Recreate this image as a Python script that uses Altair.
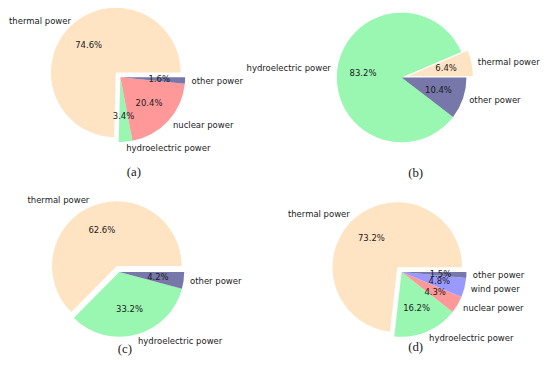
import altair as alt
import pandas as pd

# ---- data ----
cats_a = ["thermal power", "hydroelectric power", "nuclear power", "other power"]
vals_a = [74.6, 3.4, 20.4, 1.6]
expl_a = [0.1, 0, 0, 0]

cats_b = ["thermal power", "hydroelectric power", "other power"]
vals_b = [6.4, 83.2, 10.4]
expl_b = [0.1, 0, 0]

cats_c = ["thermal power", "hydroelectric power", "other power"]
vals_c = [62.6, 33.2, 4.2]
expl_c = [0.1, 0, 0]

cats_d = ["thermal power", "hydroelectric power", "nuclear power", "wind power", "other power"]
vals_d = [73.2, 16.2, 4.3, 4.8, 1.5]
expl_d = [0.1, 0, 0, 0, 0]

captions = ["(a)", "(b)", "(c)", "(d)"]

COLORS = {
    "thermal power": "#FFE4C4",
    "hydroelectric power": "#99F7B2",
    "nuclear power": "#FF9999",
    "wind power": "#9999FF",
    "other power": "#7777AA",
}

# ---- layout (pixels in the plot area) ----
R = 65.8
FONT = "DejaVu Sans"
FS = 8.6
CENTERS = [(114, 67.5), (399.5, 67.8), (113, 265.2), (399.5, 265.2)]
CAPPOS = [(127.7, 164), (413.7, 165.3), (118.7, 343.7), (413.7, 341.3)]


def panel(cats, vals, expl, center, caption, cappos, left_dx=0):
    cx0, cy0 = center
    df = pd.DataFrame({
        "order": list(range(len(cats))),
        "category": cats,
        "value": vals,
        "explode": expl,
        "color": [COLORS[c] for c in cats],
    })
    base = (
        alt.Chart(df)
        .transform_window(cum="sum(value)", sort=[alt.SortField("order")], frame=[None, 0])
        .transform_joinaggregate(total="sum(value)")
        .transform_calculate(
            a0="2*PI*(datum.cum - datum.value)/datum.total",
            a1="2*PI*datum.cum/datum.total",
        )
        .transform_calculate(am="(datum.a0 + datum.a1)/2")
        .transform_calculate(
            X=f"{cx0} + {R}*datum.explode*cos(datum.am)",
            Y=f"{cy0} - {R}*datum.explode*sin(datum.am)",
            t0="PI/2 - datum.a0",
            t1="PI/2 - datum.a1",
            pct="format(datum.value, '.1f') + '%'",
        )
        .transform_calculate(
            LX=f"datum.X + 1.1*{R}*cos(datum.am)",
            LY=f"datum.Y - 1.1*{R}*sin(datum.am)",
            PX=f"datum.X + 0.6*{R}*cos(datum.am)",
            PY=f"datum.Y - 0.6*{R}*sin(datum.am)",
        )
    )

    arc = base.mark_arc(radius=R).encode(
        x=alt.X("X:Q", scale=None, axis=None),
        y=alt.Y("Y:Q", scale=None, axis=None),
        theta=alt.Theta("t0:Q", scale=None, stack=False),
        theta2=alt.Theta2("t1:Q"),
        color=alt.Color("color:N", scale=None),
    )
    left = base.transform_filter(f"datum.LX < {cx0}").mark_text(
        align="right", baseline="middle", font=FONT, fontSize=FS, color="#1a1a1a",
        dx=left_dx,
    ).encode(
        x=alt.X("LX:Q", scale=None, axis=None),
        y=alt.Y("LY:Q", scale=None, axis=None),
        text="category:N",
    )
    right = base.transform_filter(f"datum.LX >= {cx0}").mark_text(
        align="left", baseline="middle", font=FONT, fontSize=FS, color="#1a1a1a"
    ).encode(
        x=alt.X("LX:Q", scale=None, axis=None),
        y=alt.Y("LY:Q", scale=None, axis=None),
        text="category:N",
    )
    pct = base.mark_text(
        align="center", baseline="middle", font=FONT, fontSize=FS, color="#1a1a1a"
    ).encode(
        x=alt.X("PX:Q", scale=None, axis=None),
        y=alt.Y("PY:Q", scale=None, axis=None),
        text="pct:N",
    )
    cap = alt.Chart(pd.DataFrame({"caption": [caption]})).mark_text(
        align="center", baseline="middle", font="Liberation Serif", fontSize=13, color="#1a1a1a"
    ).encode(
        x=alt.value(cappos[0]),
        y=alt.value(cappos[1]),
        text="caption:N",
    )
    return [arc, left, right, pct, cap]


layers = []
layers += panel(cats_a, vals_a, expl_a, CENTERS[0], captions[0], CAPPOS[0], left_dx=5)
layers += panel(cats_b, vals_b, expl_b, CENTERS[1], captions[1], CAPPOS[1])
layers += panel(cats_c, vals_c, expl_c, CENTERS[2], captions[2], CAPPOS[2])
layers += panel(cats_d, vals_d, expl_d, CENTERS[3], captions[3], CAPPOS[3])

chart = (
    alt.layer(*layers)
    .properties(
        width=542,
        height=363,
        padding=0,
        autosize=alt.AutoSizeParams(type="none"),
        background="white",
    )
    .configure_view(stroke=None)
)

chart.save("out.html", embed_options={"renderer": "svg", "actions": False})
